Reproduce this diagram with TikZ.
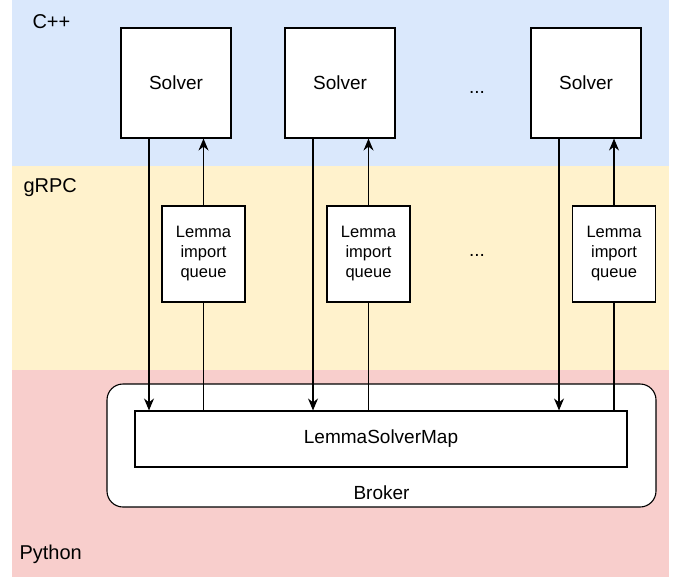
\documentclass[tikz,border=0pt]{standalone}
\usepackage{fontspec}
\setmainfont{Liberation Sans}
\usetikzlibrary{arrows.meta}
\definecolor{cppblue}{HTML}{DAE8FC}
\definecolor{grpcyellow}{HTML}{FFF2CC}
\definecolor{pypink}{HTML}{F8CECC}

\tikzset{
  solverbox/.style={draw, fill=white, minimum width=110pt, minimum height=110pt},
  queuebox/.style={draw, fill=white, minimum width=83pt, minimum height=96pt, align=center,
    font=\fontsize{16.5}{20}\selectfont},
  layerlabel/.style={anchor=west, inner sep=0pt, font=\fontsize{20}{22}\selectfont},
  conn/.style={-{Stealth[length=12pt,width=10pt,inset=4pt]}}
}

\begin{document}
\begin{tikzpicture}[x=1pt, y=-1pt, font=\fontsize{19}{21}\selectfont, line width=1.1pt]
                            \useasboundingbox (0,0) rectangle (684,578);
                            % layers
                            \fill[cppblue] (12,0) rectangle (669,166);
                            \fill[grpcyellow] (12,166) rectangle (669,370);
                            \fill[pypink] (12,370) rectangle (669,577);
                            \node[layerlabel] (cpp) at (32,22) {C++};
                            \node[layerlabel] (grpc) at (23,188) {gRPC};
                            \node[layerlabel] (python) at (19,554) {Python};
                            % solvers
                            \node[solverbox] (s1) at (176,83) {Solver};
                            \node[solverbox] (s2) at (340,83) {Solver};
                            \node[solverbox] (s3) at (586,83) {Solver};
                            \node (sdots) at (477,92) {...};
                            % lemma import queues
                            \node[queuebox] (q1) at (203.5,254) {Lemma\\import\\queue};
                            \node[queuebox] (q2) at (368.5,254) {Lemma\\import\\queue};
                            \node[queuebox] (q3) at (614,254) {Lemma\\import\\queue};
                            \node (qdots) at (477,255) {...};
                            % broker
                            \node[draw, fill=white, rounded corners=16pt, minimum width=549pt, minimum height=123pt] (broker) at (381.5,445.5) {};
                            \node (brokerlabel) at (381.5,493) {Broker};
                            \node[draw, fill=white, minimum width=492pt, minimum height=56pt] (lsm) at (381,439) {LemmaSolverMap};
                            % connectors
                            \foreach \s/\q in {s1/q1, s2/q2, s3/q3} {
                              \draw[conn] ([xshift=-27pt]\s.south) -- ([xshift=-27pt]\s.south |- lsm.north);
                              \draw (lsm.north -| \q.south) -- (\q.south);
                              \draw[conn] (\q.north) -- (\q.north |- \s.south);
                            }
                        \end{tikzpicture}
\end{document}
